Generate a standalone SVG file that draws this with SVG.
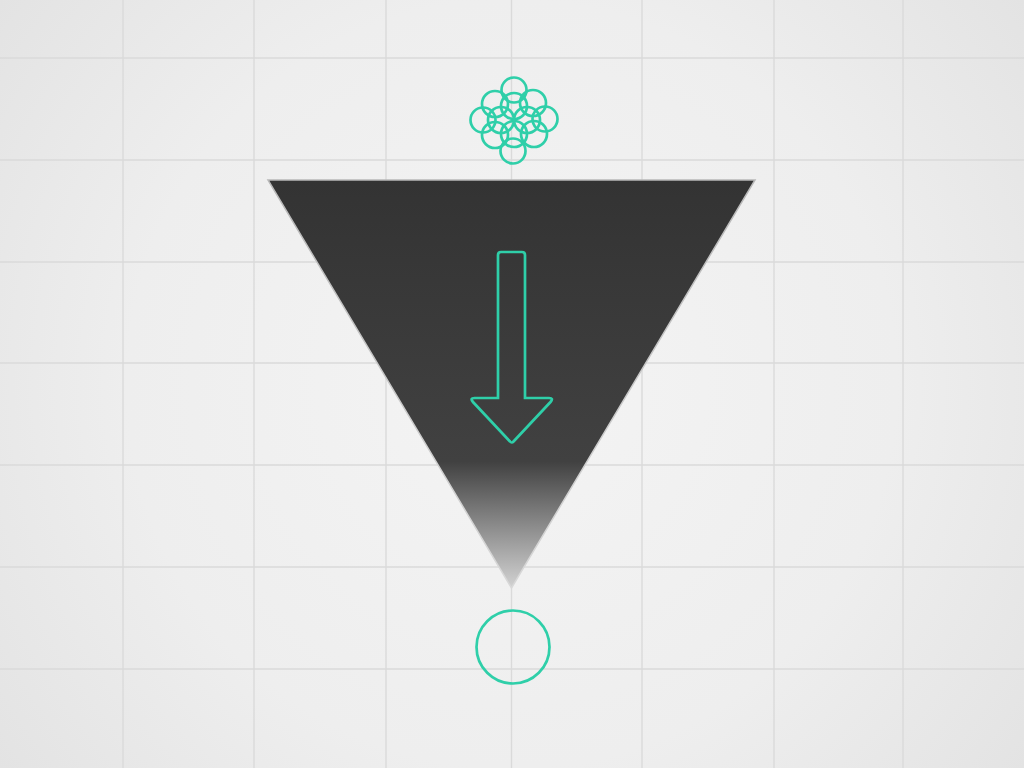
<svg xmlns="http://www.w3.org/2000/svg" width="1024" height="768" viewBox="0 0 1024 768">
  <defs>
    <radialGradient id="bg" cx="512" cy="384" r="640" gradientUnits="userSpaceOnUse">
      <stop offset="0" stop-color="#f4f4f4"/>
      <stop offset="0.6" stop-color="#eeeeee"/>
      <stop offset="1" stop-color="#e3e3e3"/>
    </radialGradient>
    <linearGradient id="tri" x1="0" y1="180" x2="0" y2="588" gradientUnits="userSpaceOnUse">
      <stop offset="0" stop-color="#333333"/>
      <stop offset="0.69" stop-color="#414141"/>
      <stop offset="1" stop-color="#d2d2d2"/>
    </linearGradient>
    <linearGradient id="triEdge" x1="0" y1="180" x2="0" y2="588" gradientUnits="userSpaceOnUse">
      <stop offset="0" stop-color="#b8b8b8"/>
      <stop offset="1" stop-color="#d8d8d8"/>
    </linearGradient>
  </defs>
  <style>
    .grid line { stroke: #dadada; stroke-width: 1.4; }
    .teal { fill: none; stroke: #2fcfa9; stroke-width: 2.7; }
  </style>
  <rect x="0" y="0" width="1024" height="768" fill="url(#bg)"/>
  <g id="grid" class="grid">
    <line x1="123" y1="0" x2="123" y2="768"/>
    <line x1="254" y1="0" x2="254" y2="768"/>
    <line x1="386" y1="0" x2="386" y2="768"/>
    <line x1="511.5" y1="0" x2="511.5" y2="768"/>
    <line x1="642" y1="0" x2="642" y2="768"/>
    <line x1="774" y1="0" x2="774" y2="768"/>
    <line x1="903" y1="0" x2="903" y2="768"/>
    <line x1="0" y1="58" x2="1024" y2="58"/>
    <line x1="0" y1="160" x2="1024" y2="160"/>
    <line x1="0" y1="262" x2="1024" y2="262"/>
    <line x1="0" y1="363" x2="1024" y2="363"/>
    <line x1="0" y1="465" x2="1024" y2="465"/>
    <line x1="0" y1="567" x2="1024" y2="567"/>
    <line x1="0" y1="669" x2="1024" y2="669"/>
  </g>
  <g id="funnel">
    <polygon points="268,180 755,180 511.5,588" fill="url(#tri)" stroke="url(#triEdge)" stroke-width="1.5" stroke-linejoin="miter"/>
  </g>
  <g id="arrow">
    <path class="teal" d="M501,252 H522 Q525,252 525,255 V398 H549 Q554,398 550.5,402 L513.5,441.5 Q511.7,443.5 510,441.5 L473,402 Q469.5,398 474.5,398 H498 V255 Q498,252 501,252 Z"/>
  </g>
  <g id="cluster" class="teal">
    <circle cx="514" cy="90" r="12.5"/>
    <circle cx="513" cy="151" r="12.5"/>
    <circle cx="483" cy="120" r="12.5"/>
    <circle cx="545" cy="119" r="12.5"/>
    <circle cx="495" cy="104" r="13"/>
    <circle cx="533" cy="103" r="13"/>
    <circle cx="495" cy="135" r="13"/>
    <circle cx="534" cy="134" r="13"/>
    <circle cx="514" cy="106" r="13"/>
    <circle cx="514" cy="134" r="13"/>
    <circle cx="501" cy="120" r="13"/>
    <circle cx="527" cy="120" r="13"/>
  </g>
  <g id="sink">
    <circle class="teal" cx="513" cy="647" r="36.5"/>
  </g>
</svg>
